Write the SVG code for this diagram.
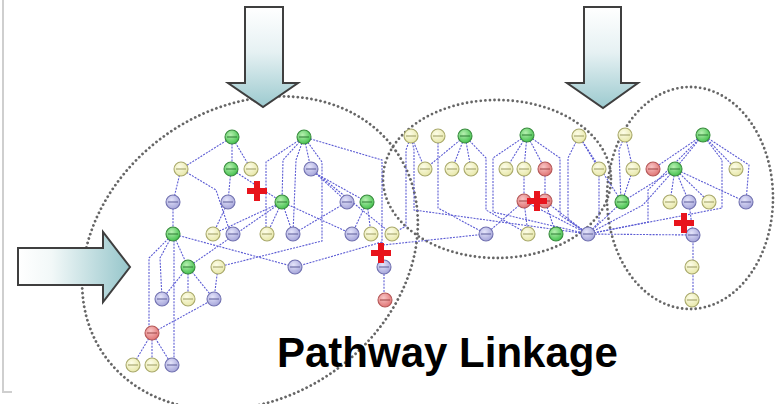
<svg xmlns="http://www.w3.org/2000/svg" width="779" height="404" viewBox="0 0 779 404">
  <defs>
    <linearGradient id="gradDown" x1="0" y1="0" x2="0" y2="1">
      <stop offset="0" stop-color="#ffffff"/>
      <stop offset="0.45" stop-color="#e6f1f3"/>
      <stop offset="1" stop-color="#9ccacf"/>
    </linearGradient>
    <linearGradient id="gradRight" x1="0" y1="0" x2="1" y2="0">
      <stop offset="0" stop-color="#ffffff"/>
      <stop offset="0.3" stop-color="#f2f8f8"/>
      <stop offset="1" stop-color="#96c6cb"/>
    </linearGradient>
    <radialGradient id="fillG" cx="0.4" cy="0.35" r="0.7">
      <stop offset="0" stop-color="#b6f0b0"/>
      <stop offset="1" stop-color="#3fbf4a"/>
    </radialGradient>
    <radialGradient id="fillY" cx="0.4" cy="0.35" r="0.7">
      <stop offset="0" stop-color="#fdfde8"/>
      <stop offset="1" stop-color="#e6e6a6"/>
    </radialGradient>
    <radialGradient id="fillL" cx="0.4" cy="0.35" r="0.7">
      <stop offset="0" stop-color="#e4e4fa"/>
      <stop offset="1" stop-color="#a2a2d8"/>
    </radialGradient>
    <radialGradient id="fillR" cx="0.4" cy="0.35" r="0.7">
      <stop offset="0" stop-color="#f8c4c4"/>
      <stop offset="1" stop-color="#df7070"/>
    </radialGradient>
    <g id="plus">
      <rect x="-10" y="-3" width="20" height="6"/>
      <rect x="-3" y="-10" width="6" height="20"/>
    </g>
  </defs>
  <style>
    .frame { stroke: #cfcfcf; stroke-width: 2; fill: none; }
    .module { fill: none; stroke: #666666; stroke-width: 2.8; stroke-dasharray: 0 4.6; stroke-linecap: round; }
    .arrow { stroke: #3f3f3f; stroke-width: 2; stroke-linejoin: miter; }
    .edges path { fill: none; stroke: #5c5cd4; stroke-width: 1.1; stroke-dasharray: 2 1.2; }
    .n circle { stroke-width: 1.1; }
    .n path { stroke-width: 1; fill: none; }
    .g circle { fill: url(#fillG); stroke: #3a8c3f; }
    .g path { stroke: #2f7a35; }
    .y circle { fill: url(#fillY); stroke: #a9a96c; }
    .y path { stroke: #9a9a60; }
    .l circle { fill: url(#fillL); stroke: #7272b0; }
    .l path { stroke: #5c5c98; }
    .r circle { fill: url(#fillR); stroke: #b45858; }
    .r path { stroke: #9c4444; }
    .mark { fill: #e8141c; }
    .title { font-family: "Liberation Sans", Arial, sans-serif; font-weight: bold; font-size: 42px; fill: #000; }
  </style>

  <rect width="779" height="404" fill="#ffffff"/>
  <path class="frame" d="M3,0 V392 H12"/>

  <!-- pathway modules -->
  <g id="modules">
    <ellipse class="module" cx="250" cy="253" rx="178" ry="145" transform="rotate(-35 250 253)"/>
    <ellipse class="module" cx="497" cy="179" rx="114" ry="79"/>
    <ellipse class="module" cx="690" cy="198" rx="83" ry="111"/>
  </g>

  <!-- input arrows -->
  <g id="arrow-top-left">
    <path class="arrow" fill="url(#gradDown)" d="M245,7 H283 V83 H298 L263,107 L228,83 H245 Z"/>
  </g>
  <g id="arrow-top-right">
    <path class="arrow" fill="url(#gradDown)" d="M584,7 H621 V83 H638 L603,108 L567,83 H584 Z"/>
  </g>
  <g id="arrow-left">
    <path class="arrow" fill="url(#gradRight)" d="M18,248 H103 V232 L130,267 L103,302 V285 H18 Z"/>
  </g>

  <!-- connectors -->
  <g class="edges" id="connectors">
    <path d="M232,137 L181,169"/>
    <path d="M232,137 V169"/>
    <path d="M232,137 L251,169"/>
    <path d="M181,169 L173,202"/>
    <path d="M181,169 L216,190 L228,226 L233,234"/>
    <path d="M231,169 L228,202"/>
    <path d="M231,169 L282,202"/>
    <path d="M228,202 L213,234"/>
    <path d="M173,202 V234"/>
    <path d="M304,137 L266,162 V234"/>
    <path d="M304,137 L283,160 L282,202"/>
    <path d="M304,137 L296,160 L293,234"/>
    <path d="M304,137 L311,169"/>
    <path d="M304,137 L322,162 V241 L218,267"/>
    <path d="M304,137 L382,160 V242 L295,267"/>
    <path d="M311,169 L347,202"/>
    <path d="M313,172 L367,202"/>
    <path d="M311,169 L392,234"/>
    <path d="M282,202 L267,234"/>
    <path d="M282,202 L293,234"/>
    <path d="M282,202 L352,234"/>
    <path d="M282,202 L213,234"/>
    <path d="M347,202 L293,234"/>
    <path d="M367,202 L352,234"/>
    <path d="M367,202 L371,234"/>
    <path d="M173,234 L149,258 V328"/>
    <path d="M173,234 L160,258 L162,299"/>
    <path d="M174,234 V365"/>
    <path d="M173,234 L188,267"/>
    <path d="M173,234 L295,267"/>
    <path d="M188,267 L282,202"/>
    <path d="M188,267 L162,299"/>
    <path d="M188,267 V299"/>
    <path d="M188,267 L214,299"/>
    <path d="M218,267 L214,299"/>
    <path d="M152,333 L133,365"/>
    <path d="M152,333 V365"/>
    <path d="M152,333 L172,365"/>
    <path d="M152,333 L214,299"/>
    <path d="M382,242 L384,267 V300"/>
    <path d="M383,245 L486,234"/>
    <path d="M411,136 L406,150 V226 L392,234"/>
    <path d="M411,136 L414,150 V210 L588,234"/>
    <path d="M411,136 L425,169"/>
    <path d="M438,136 V208 L486,234"/>
    <path d="M465,136 L425,169"/>
    <path d="M465,136 L452,169"/>
    <path d="M465,136 L471,169"/>
    <path d="M465,136 L486,158 V210 L528,234"/>
    <path d="M527,135 L506,169"/>
    <path d="M527,135 L524,169"/>
    <path d="M527,135 L545,169"/>
    <path d="M527,135 L493,158 V212 L588,234"/>
    <path d="M527,135 L560,158 V215 L588,234"/>
    <path d="M524,169 V201"/>
    <path d="M545,169 V201"/>
    <path d="M524,201 L486,234"/>
    <path d="M524,201 L528,234"/>
    <path d="M545,201 L556,234"/>
    <path d="M545,201 L588,234"/>
    <path d="M524,201 L588,234"/>
    <path d="M579,136 L568,158 V220 L588,234"/>
    <path d="M579,136 L599,169"/>
    <path d="M579,136 L622,202"/>
    <path d="M599,169 V222 L588,234"/>
    <path d="M625,135 L633,169"/>
    <path d="M625,135 L619,150 L621,202"/>
    <path d="M633,169 L622,202"/>
    <path d="M703,135 L653,169"/>
    <path d="M703,135 L675,169"/>
    <path d="M703,135 L736,169"/>
    <path d="M703,135 L648,190 V222 L588,234"/>
    <path d="M703,135 L722,160 V208 L588,234"/>
    <path d="M703,135 L749,165 L746,202"/>
    <path d="M675,169 L622,202"/>
    <path d="M675,169 L670,202"/>
    <path d="M675,169 L689,202"/>
    <path d="M675,169 L709,202"/>
    <path d="M675,169 L746,202"/>
    <path d="M675,169 L643,205 L588,234"/>
    <path d="M622,202 L588,234"/>
    <path d="M693,235 L588,234"/>
    <path d="M689,202 L693,235 V300"/>
  </g>

  <!-- nodes: left pathway -->
  <g id="a1" class="n g" transform="translate(232,137)"><circle r="7"/><path d="M-5,0H5"/></g>
  <g id="a2" class="n g" transform="translate(304,137)"><circle r="7"/><path d="M-5,0H5"/></g>
  <g id="a3" class="n y" transform="translate(181,169)"><circle r="7"/><path d="M-5,0H5"/></g>
  <g id="a4" class="n g" transform="translate(231,169)"><circle r="7"/><path d="M-5,0H5"/></g>
  <g id="a5" class="n y" transform="translate(251,169)"><circle r="7"/><path d="M-5,0H5"/></g>
  <g id="a6" class="n l" transform="translate(311,169)"><circle r="7"/><path d="M-5,0H5"/></g>
  <g id="a7" class="n l" transform="translate(173,202)"><circle r="7"/><path d="M-5,0H5"/></g>
  <g id="a8" class="n l" transform="translate(228,202)"><circle r="7"/><path d="M-5,0H5"/></g>
  <g id="a9" class="n g" transform="translate(282,202)"><circle r="7"/><path d="M-5,0H5"/></g>
  <g id="a10" class="n l" transform="translate(347,202)"><circle r="7"/><path d="M-5,0H5"/></g>
  <g id="a11" class="n g" transform="translate(367,202)"><circle r="7"/><path d="M-5,0H5"/></g>
  <g id="a12" class="n g" transform="translate(173,234)"><circle r="7"/><path d="M-5,0H5"/></g>
  <g id="a13" class="n y" transform="translate(213,234)"><circle r="7"/><path d="M-5,0H5"/></g>
  <g id="a14" class="n l" transform="translate(233,234)"><circle r="7"/><path d="M-5,0H5"/></g>
  <g id="a15" class="n y" transform="translate(267,234)"><circle r="7"/><path d="M-5,0H5"/></g>
  <g id="a16" class="n l" transform="translate(293,234)"><circle r="7"/><path d="M-5,0H5"/></g>
  <g id="a17" class="n l" transform="translate(352,234)"><circle r="7"/><path d="M-5,0H5"/></g>
  <g id="a18" class="n y" transform="translate(371,234)"><circle r="7"/><path d="M-5,0H5"/></g>
  <g id="a19" class="n y" transform="translate(392,234)"><circle r="7"/><path d="M-5,0H5"/></g>
  <g id="a20" class="n g" transform="translate(188,267)"><circle r="7"/><path d="M-5,0H5"/></g>
  <g id="a21" class="n y" transform="translate(218,267)"><circle r="7"/><path d="M-5,0H5"/></g>
  <g id="a22" class="n l" transform="translate(295,267)"><circle r="7"/><path d="M-5,0H5"/></g>
  <g id="a23" class="n l" transform="translate(384,267)"><circle r="7"/><path d="M-5,0H5"/></g>
  <g id="a24" class="n l" transform="translate(162,299)"><circle r="7"/><path d="M-5,0H5"/></g>
  <g id="a25" class="n y" transform="translate(188,299)"><circle r="7"/><path d="M-5,0H5"/></g>
  <g id="a26" class="n l" transform="translate(214,299)"><circle r="7"/><path d="M-5,0H5"/></g>
  <g id="a27" class="n r" transform="translate(385,300)"><circle r="7"/><path d="M-5,0H5"/></g>
  <g id="a28" class="n r" transform="translate(152,333)"><circle r="7"/><path d="M-5,0H5"/></g>
  <g id="a29" class="n y" transform="translate(133,365)"><circle r="7"/><path d="M-5,0H5"/></g>
  <g id="a30" class="n y" transform="translate(152,365)"><circle r="7"/><path d="M-5,0H5"/></g>
  <g id="a31" class="n l" transform="translate(172,365)"><circle r="7"/><path d="M-5,0H5"/></g>

  <!-- nodes: middle pathway -->
  <g id="b1" class="n y" transform="translate(411,136)"><circle r="7"/><path d="M-5,0H5"/></g>
  <g id="b2" class="n y" transform="translate(438,136)"><circle r="7"/><path d="M-5,0H5"/></g>
  <g id="b3" class="n g" transform="translate(465,136)"><circle r="7"/><path d="M-5,0H5"/></g>
  <g id="b4" class="n g" transform="translate(527,135)"><circle r="7"/><path d="M-5,0H5"/></g>
  <g id="b5" class="n y" transform="translate(579,136)"><circle r="7"/><path d="M-5,0H5"/></g>
  <g id="b6" class="n y" transform="translate(425,169)"><circle r="7"/><path d="M-5,0H5"/></g>
  <g id="b7" class="n y" transform="translate(452,169)"><circle r="7"/><path d="M-5,0H5"/></g>
  <g id="b8" class="n y" transform="translate(471,169)"><circle r="7"/><path d="M-5,0H5"/></g>
  <g id="b9" class="n y" transform="translate(506,169)"><circle r="7"/><path d="M-5,0H5"/></g>
  <g id="b10" class="n y" transform="translate(524,169)"><circle r="7"/><path d="M-5,0H5"/></g>
  <g id="b11" class="n r" transform="translate(545,169)"><circle r="7"/><path d="M-5,0H5"/></g>
  <g id="b12" class="n y" transform="translate(599,169)"><circle r="7"/><path d="M-5,0H5"/></g>
  <g id="b13" class="n r" transform="translate(524,201)"><circle r="7"/><path d="M-5,0H5"/></g>
  <g id="b14" class="n r" transform="translate(545,201)"><circle r="7"/><path d="M-5,0H5"/></g>
  <g id="b15" class="n l" transform="translate(486,234)"><circle r="7"/><path d="M-5,0H5"/></g>
  <g id="b16" class="n y" transform="translate(528,234)"><circle r="7"/><path d="M-5,0H5"/></g>
  <g id="b17" class="n g" transform="translate(556,234)"><circle r="7"/><path d="M-5,0H5"/></g>
  <g id="b18" class="n l" transform="translate(588,234)"><circle r="7"/><path d="M-5,0H5"/></g>

  <!-- nodes: right pathway -->
  <g id="c1" class="n y" transform="translate(625,135)"><circle r="7"/><path d="M-5,0H5"/></g>
  <g id="c2" class="n g" transform="translate(703,135)"><circle r="7"/><path d="M-5,0H5"/></g>
  <g id="c3" class="n y" transform="translate(633,169)"><circle r="7"/><path d="M-5,0H5"/></g>
  <g id="c4" class="n r" transform="translate(653,169)"><circle r="7"/><path d="M-5,0H5"/></g>
  <g id="c5" class="n g" transform="translate(675,169)"><circle r="7"/><path d="M-5,0H5"/></g>
  <g id="c6" class="n y" transform="translate(736,169)"><circle r="7"/><path d="M-5,0H5"/></g>
  <g id="c7" class="n g" transform="translate(622,202)"><circle r="7"/><path d="M-5,0H5"/></g>
  <g id="c8" class="n y" transform="translate(670,202)"><circle r="7"/><path d="M-5,0H5"/></g>
  <g id="c9" class="n l" transform="translate(689,202)"><circle r="7"/><path d="M-5,0H5"/></g>
  <g id="c10" class="n y" transform="translate(709,202)"><circle r="7"/><path d="M-5,0H5"/></g>
  <g id="c11" class="n l" transform="translate(746,202)"><circle r="7"/><path d="M-5,0H5"/></g>
  <g id="c12" class="n l" transform="translate(693,235)"><circle r="7"/><path d="M-5,0H5"/></g>
  <g id="c13" class="n y" transform="translate(692,267)"><circle r="7"/><path d="M-5,0H5"/></g>
  <g id="c14" class="n y" transform="translate(692,300)"><circle r="7"/><path d="M-5,0H5"/></g>

  <!-- linkage break markers -->
  <g id="marks" class="mark">
    <use href="#plus" x="257" y="191"/>
    <use href="#plus" x="381" y="253"/>
    <use href="#plus" x="537" y="201"/>
    <use href="#plus" x="684" y="223"/>
  </g>

  <text class="title" x="277" y="367">Pathway Linkage</text>
</svg>
